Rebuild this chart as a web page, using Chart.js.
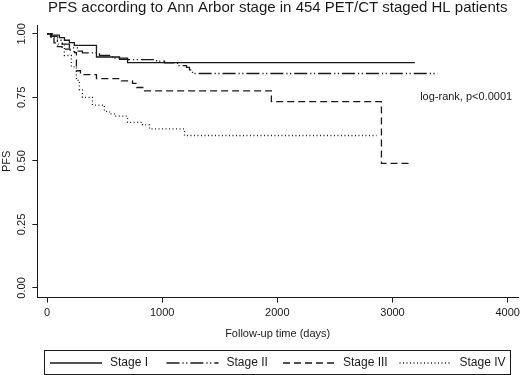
<!DOCTYPE html>
<html>
<head>
<meta charset="utf-8">
<script src="https://cdn.jsdelivr.net/npm/chart.js@4/dist/chart.umd.min.js"></script>
<style>
  html, body { margin: 0; padding: 0; background: #fff; }
  #wrap { width: 520px; height: 375px; position: relative; }
</style>
</head>
<body>
<div id="wrap"><canvas id="km"></canvas></div>
<script>
// Kaplan-Meier curves (days, PFS)
const stageLabels = ["Stage I", "Stage II", "Stage III", "Stage IV"];

const stage1Days = [0, 46, 107, 151, 194, 237, 429, 629, 699, 3194];
const stage1Surv = [1.0, 0.995, 0.985, 0.975, 0.966, 0.955, 0.909, 0.9, 0.887, 0.887];

const stage2Days = [0, 37, 90, 133, 194, 263, 307, 455, 568, 699, 951, 1020, 1133, 1211, 1237, 1263, 3394];
const stage2Surv = [1.0, 0.99, 0.975, 0.96, 0.945, 0.932, 0.925, 0.915, 0.905, 0.899, 0.893, 0.886, 0.875, 0.868, 0.858, 0.844, 0.844];

const stage3Days = [0, 30, 60, 90, 130, 200, 240, 255, 290, 429, 646, 742, 777, 847, 1948, 2904, 3165];
const stage3Surv = [1.0, 0.985, 0.965, 0.95, 0.94, 0.93, 0.926, 0.855, 0.84, 0.824, 0.815, 0.805, 0.789, 0.776, 0.733, 0.49, 0.49];

const stage4Days = [0, 37, 90, 150, 211, 255, 281, 307, 394, 498, 542, 585, 699, 829, 890, 1194, 2861];
const stage4Surv = [1.0, 0.985, 0.96, 0.915, 0.87, 0.817, 0.78, 0.75, 0.72, 0.695, 0.685, 0.676, 0.652, 0.642, 0.626, 0.6, 0.6];

const xTicks = [0, 1000, 2000, 3000, 4000];
const yTicks = [0, 0.25, 0.5, 0.75, 1];

const titleText = "PFS according to Ann Arbor stage in 454 PET/CT staged HL patients";
const ink = "#1a1a1a";
const fontFam = "'Liberation Sans', Arial, sans-serif";

function toPoints(days, surv) {
  return days.map((d, i) => ({ x: d, y: surv[i] }));
}

function kmSet(label, days, surv, dash) {
  return {
    label: label,
    data: toPoints(days, surv),
    borderColor: ink,
    backgroundColor: ink,
    borderWidth: 1.3,
    borderDash: dash,
    stepped: "before",
    pointRadius: 0,
    fill: false,
  };
}

// title over the plot, framed legend, and the log-rank note
const extras = {
  id: "extras",
  afterDraw(chart) {
    const ctx = chart.ctx;
    const area = chart.chartArea;
    const xs = chart.scales.x;
    const ys = chart.scales.y;

    ctx.save();
    ctx.fillStyle = ink;
    ctx.textBaseline = "middle";

    ctx.font = "15px " + fontFam;
    ctx.textAlign = "center";
    ctx.fillText(titleText, (area.left + area.right) / 2, 8);

    ctx.font = "11px " + fontFam;
    ctx.textAlign = "left";
    ctx.fillText("log-rank, p<0.0001", xs.getPixelForValue(3240), ys.getPixelForValue(0.75));

    const boxL = 44, boxR = 510;
    const boxT = 350, boxB = 374;
    ctx.strokeStyle = ink;
    ctx.lineWidth = 1;
    ctx.setLineDash([]);
    ctx.strokeRect(boxL + 0.5, boxT + 0.5, boxR - boxL, boxB - boxT);

    ctx.font = "12px " + fontFam;
    const slot = (boxR - boxL) / 4;
    const midY = (boxT + boxB) / 2 + 1;
    chart.data.datasets.forEach((ds, i) => {
      const x0 = boxL + slot * i + 6;
      ctx.beginPath();
      ctx.lineWidth = ds.borderWidth;
      ctx.setLineDash(ds.borderDash || []);
      ctx.moveTo(x0, midY);
      ctx.lineTo(x0 + 52, midY);
      ctx.stroke();
      ctx.setLineDash([]);
      ctx.fillText(ds.label, x0 + 60, midY);
    });
    ctx.restore();
  },
};

new Chart(document.getElementById("km"), {
  type: "line",
  data: {
    datasets: [
      kmSet(stageLabels[0], stage1Days, stage1Surv, []),
      kmSet(stageLabels[1], stage2Days, stage2Surv, [13, 3, 1.2, 2.5, 1.2, 3]),
      kmSet(stageLabels[2], stage3Days, stage3Surv, [7, 4]),
      kmSet(stageLabels[3], stage4Days, stage4Surv, [1, 2.5]),
    ],
  },
  options: {
    responsive: true,
    maintainAspectRatio: false,
    animation: false,
    layout: { padding: { left: 0, right: 2, top: 25, bottom: 34 } },
    plugins: {
      legend: { display: false },
      tooltip: { enabled: false },
      title: { display: false },
    },
    scales: {
      x: {
        type: "linear",
        min: -84,
        max: 4090,
        afterBuildTicks: (s) => { s.ticks = xTicks.map((v) => ({ value: v })); },
        afterFit: (s) => { s.paddingRight = 0; s.paddingLeft = 0; },
        grid: { drawOnChartArea: false, drawTicks: true, tickLength: 5, color: ink },
        border: { display: true, color: ink, width: 1 },
        ticks: {
          color: ink,
          padding: 4,
          font: { family: fontFam, size: 11 },
          maxRotation: 0,
          callback: (v) => String(v),
        },
        title: {
          display: true,
          text: "Follow-up time (days)",
          color: ink,
          font: { family: fontFam, size: 11 },
          padding: { top: 4, bottom: 0 },
        },
      },
      y: {
        type: "linear",
        min: -0.038,
        max: 1.035,
        afterBuildTicks: (s) => { s.ticks = yTicks.map((v) => ({ value: v })); },
        grid: { drawOnChartArea: false, drawTicks: true, tickLength: 5, color: ink },
        border: { display: true, color: ink, width: 1 },
        ticks: {
          color: ink,
          padding: 0,
          minRotation: 90,
          crossAlign: "center",
          font: { family: fontFam, size: 11 },
          callback: (v) => Number(v).toFixed(2),
        },
        title: {
          display: true,
          text: "PFS",
          color: ink,
          font: { family: fontFam, size: 11 },
          padding: { top: 0, bottom: 6 },
        },
      },
    },
  },
  plugins: [extras],
});
</script>
</body>
</html>
